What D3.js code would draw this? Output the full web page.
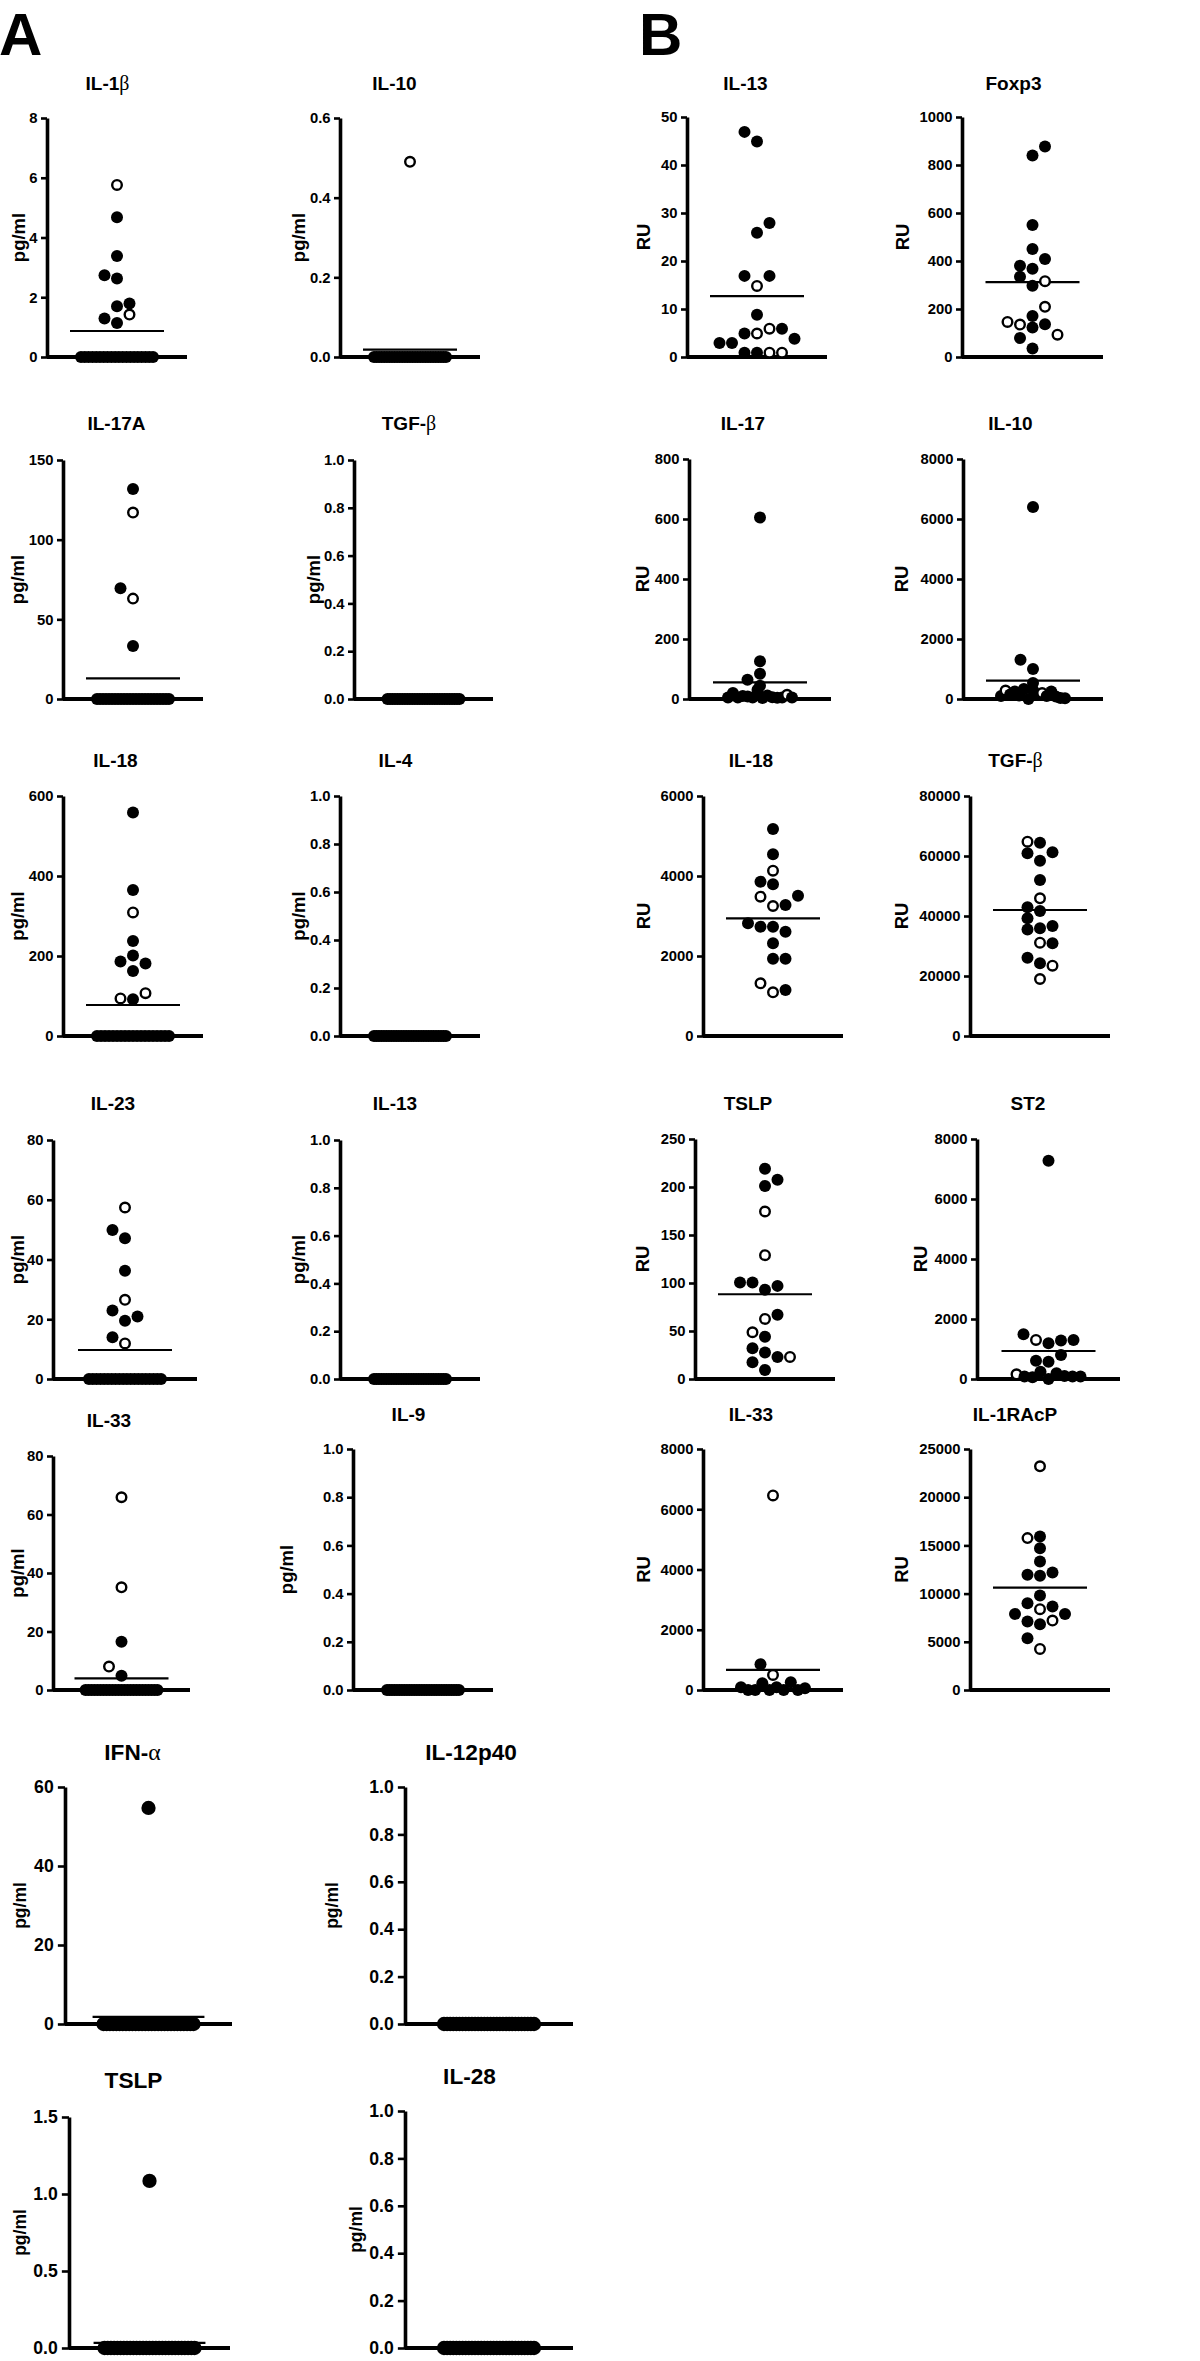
<!DOCTYPE html>
<html>
<head>
<meta charset="utf-8">
<script src="https://cdn.jsdelivr.net/npm/d3@7"></script>
<style>
  html, body { margin: 0; padding: 0; background: #ffffff; }
  svg text { font-family: Arial, "Liberation Sans", Helvetica, sans-serif; font-weight: bold; fill: #000; }
</style>
</head>
<body>
<svg id="chart" width="1200" height="2361"></svg>
<script>
// ---------------- DATA (value, open marker: 1 = open circle) ----------------
const A_IL1b = [[1.14,0],[1.29,0],[1.42,1],[1.70,0],[1.79,0],[2.63,0],[2.74,0],[3.38,0],[4.68,0],[5.76,1],
  [0,0],[0,0],[0,0],[0,0],[0,0],[0,0],[0,0],[0,0],[0,0],[0,0],[0,0],[0,0],[0,0],[0,0],[0,0],[0,0],[0,0],[0,0],[0,0],[0,0]];
const A_IL10 = [[0.49,1],
  [0,0],[0,0],[0,0],[0,0],[0,0],[0,0],[0,0],[0,0],[0,0],[0,0],[0,0],[0,0],[0,0],[0,0],[0,0],[0,0],[0,0],[0,0],[0,0],[0,0],[0,0],[0,0],[0,0],[0,0],[0,0],[0,0],[0,0],[0,0],[0,0]];
const A_IL17A = [[33.3,0],[63,1],[69.5,0],[117,1],[131.8,0],
  [0,0],[0,0],[0,0],[0,0],[0,0],[0,0],[0,0],[0,0],[0,0],[0,0],[0,0],[0,0],[0,0],[0,0],[0,0],[0,0],[0,0],[0,0],[0,0],[0,0],[0,0],[0,0],[0,0],[0,0],[0,0]];
const A_TGFb = [[0,0],[0,0],[0,0],[0,0],[0,0],[0,0],[0,0],[0,0],[0,0],[0,0],[0,0],[0,0],[0,0],[0,0],[0,0],
  [0,0],[0,0],[0,0],[0,0],[0,0],[0,0],[0,0],[0,0],[0,0],[0,0],[0,0],[0,0],[0,0],[0,0],[0,0]];
const A_IL18 = [[92,0],[94,1],[107,1],[162.5,0],[181,0],[186,0],[201,0],[237.5,0],[309,1],[365,0],[559,0],
  [0,0],[0,0],[0,0],[0,0],[0,0],[0,0],[0,0],[0,0],[0,0],[0,0],[0,0],[0,0],[0,0],[0,0],[0,0],[0,0],[0,0],[0,0],[0,0]];
const A_IL4 = [[0,0],[0,0],[0,0],[0,0],[0,0],[0,0],[0,0],[0,0],[0,0],[0,0],[0,0],[0,0],[0,0],[0,0],[0,0],
  [0,0],[0,0],[0,0],[0,0],[0,0],[0,0],[0,0],[0,0],[0,0],[0,0],[0,0],[0,0],[0,0],[0,0],[0,0]];
const A_IL23 = [[11.9,1],[14,0],[19.5,0],[20.9,0],[22.9,0],[26.5,1],[36.2,0],[47.1,0],[49.9,0],[57.4,1],
  [0,0],[0,0],[0,0],[0,0],[0,0],[0,0],[0,0],[0,0],[0,0],[0,0],[0,0],[0,0],[0,0],[0,0],[0,0],[0,0],[0,0],[0,0],[0,0],[0,0]];
const A_IL13 = [[0,0],[0,0],[0,0],[0,0],[0,0],[0,0],[0,0],[0,0],[0,0],[0,0],[0,0],[0,0],[0,0],[0,0],[0,0],
  [0,0],[0,0],[0,0],[0,0],[0,0],[0,0],[0,0],[0,0],[0,0],[0,0],[0,0],[0,0],[0,0],[0,0],[0,0]];
const A_IL33 = [[4.9,0],[8.0,1],[16.5,0],[35.1,1],[65.9,1],
  [0,0],[0,0],[0,0],[0,0],[0,0],[0,0],[0,0],[0,0],[0,0],[0,0],[0,0],[0,0],[0,0],[0,0],[0,0],[0,0],[0,0],[0,0],[0,0],[0,0],[0,0],[0,0],[0,0],[0,0],[0,0]];
const A_IL9 = [[0,0],[0,0],[0,0],[0,0],[0,0],[0,0],[0,0],[0,0],[0,0],[0,0],[0,0],[0,0],[0,0],[0,0],[0,0],
  [0,0],[0,0],[0,0],[0,0],[0,0],[0,0],[0,0],[0,0],[0,0],[0,0],[0,0],[0,0],[0,0],[0,0],[0,0]];
const A_IFNa = [[54.7,0],
  [0,0],[0,0],[0,0],[0,0],[0,0],[0,0],[0,0],[0,0],[0,0],[0,0],[0,0],[0,0],[0,0],[0,0],[0,0],[0,0],[0,0],[0,0],[0,0],[0,0],[0,0],[0,0],[0,0],[0,0],[0,0],[0,0],[0,0],[0,0],[0,0]];
const A_IL12p40 = [[0,0],[0,0],[0,0],[0,0],[0,0],[0,0],[0,0],[0,0],[0,0],[0,0],[0,0],[0,0],[0,0],[0,0],[0,0],
  [0,0],[0,0],[0,0],[0,0],[0,0],[0,0],[0,0],[0,0],[0,0],[0,0],[0,0],[0,0],[0,0],[0,0],[0,0]];
const A_TSLP = [[1.085,0],
  [0,0],[0,0],[0,0],[0,0],[0,0],[0,0],[0,0],[0,0],[0,0],[0,0],[0,0],[0,0],[0,0],[0,0],[0,0],[0,0],[0,0],[0,0],[0,0],[0,0],[0,0],[0,0],[0,0],[0,0],[0,0],[0,0],[0,0],[0,0],[0,0]];
const A_IL28 = [[0,0],[0,0],[0,0],[0,0],[0,0],[0,0],[0,0],[0,0],[0,0],[0,0],[0,0],[0,0],[0,0],[0,0],[0,0],
  [0,0],[0,0],[0,0],[0,0],[0,0],[0,0],[0,0],[0,0],[0,0],[0,0],[0,0],[0,0],[0,0],[0,0],[0,0]];

const B_IL13 = [[0.9,0],[0.9,0],[0.9,1],[2.9,0],[0.9,1],[2.9,0],[4.9,1],[5.9,1],[4.9,0],[5.9,0],[3.8,0],
  [8.8,0],[14.8,1],[16.9,0],[16.9,0],[25.9,0],[27.9,0],[44.9,0],[46.9,0]];
const B_Foxp3 = [[35,0],[79,0],[123,0],[136,0],[135,1],[93,1],[146,1],[171,0],[209,1],[297,0],[316,1],
  [334,0],[368,0],[380,0],[408,0],[450,0],[550,0],[840,0],[877,0]];
const B_IL17 = [[5,0],[20,0],[5,0],[10,0],[8,0],[5,0],[31,0],[3,0],[12,0],[6,0],[4,0],[5,0],[14,1],[5,0],
  [44,0],[64,0],[84,0],[126,0],[605,0]];
const B_IL10 = [[100,0],[280,1],[150,0],[250,0],[120,0],[330,0],[0,0],[300,0],[150,0],[200,1],[100,0],
  [250,0],[80,0],[30,0],[25,0],[533,0],[1000,0],[1311,0],[6400,0]];
const B_IL18 = [[1092,1],[1317,1],[1150,0],[1933,0],[1933,0],[2317,0],[2733,0],[2733,0],[2608,0],[2817,0],
  [3250,1],[3275,0],[3483,1],[3508,0],[3792,0],[3858,0],[4133,1],[4542,0],[5175,0]];
const B_TGFb = [[19000,1],[24222,0],[26111,0],[23444,1],[31111,1],[30889,0],[35889,0],[35500,0],[36667,0],
  [41667,0],[42889,0],[39222,0],[45889,1],[52000,0],[58444,0],[61222,0],[60889,0],[64444,0],[64778,1]];
const B_TSLP = [[9.4,0],[17.4,0],[27.5,0],[23,0],[23,1],[32,0],[44,0],[48.7,1],[62.6,1],[67,0],[93,0],
  [100.5,0],[97,0],[100.5,0],[129,1],[174.5,1],[201,0],[207.6,0],[219,0]];
const B_ST2 = [[156,1],[80,0],[60,0],[245,0],[0,0],[190,0],[100,0],[80,0],[80,0],
  [578,0],[612,0],[800,0],[1190,0],[1280,0],[1301,1],[1301,0],[1490,0],[7275,0]];
const B_IL33 = [[89,0],[0,0],[0,0],[222,0],[0,0],[90,0],[0,0],[255,0],[0,0],[55,0],[499,1],[853,0],[6460,1]];
const B_IL1RAcP = [[4259,1],[5367,0],[6821,0],[7202,1],[7098,0],[7895,0],[7895,0],[8380,1],[9003,0],[8657,0],
  [9799,0],[11842,0],[12188,0],[11946,0],[13331,0],[14716,0],[15755,1],[15928,0],[23200,1]];

// panel order: row by row (A col1, A col2, B col1, B col2)
const titles = ["IL-1β","IL-10","IL-13","Foxp3",
                "IL-17A","TGF-β","IL-17","IL-10",
                "IL-18","IL-4","IL-18","TGF-β",
                "IL-23","IL-13","TSLP","ST2",
                "IL-33","IL-9","IL-33","IL-1RAcP",
                "IFN-α","IL-12p40",
                "TSLP","IL-28"];
const series = [A_IL1b, A_IL10, B_IL13, B_Foxp3,
                A_IL17A, A_TGFb, B_IL17, B_IL10,
                A_IL18, A_IL4, B_IL18, B_TGFb,
                A_IL23, A_IL13, B_TSLP, B_ST2,
                A_IL33, A_IL9, B_IL33, B_IL1RAcP,
                A_IFNa, A_IL12p40,
                A_TSLP, A_IL28];
const means = [0.87, 0.0185, 12.7, 312,
               13.0, 0, 55.6, 611,
               77.5, 0, 2942, 42000,
               9.7, 0, 88.3, 934,
               4.0, 0, 665, 10630,
               1.8, 0,
               0.033, 0];
const T01 = [0, 0.2, 0.4, 0.6, 0.8, 1.0];
const ticks = [[0,2,4,6,8], [0,0.2,0.4,0.6], [0,10,20,30,40,50], [0,200,400,600,800,1000],
               [0,50,100,150], T01, [0,200,400,600,800], [0,2000,4000,6000,8000],
               [0,200,400,600], T01, [0,2000,4000,6000], [0,20000,40000,60000,80000],
               [0,20,40,60,80], T01, [0,50,100,150,200,250], [0,2000,4000,6000,8000],
               [0,20,40,60,80], T01, [0,2000,4000,6000,8000], [0,5000,10000,15000,20000,25000],
               [0,20,40,60], T01,
               [0,0.5,1.0,1.5], T01];
const groups = ["A","A","B","B", "A","A","B","B", "A","A","B","B", "A","A","B","B", "A","A","B","B", "A","A", "A","A"];
const unitLabel = { A: "pg/ml", B: "RU" };

// ---------------- LAYOUT (pixel geometry of each panel) ----------------
const layoutSpec = [
  {ax:47,  xe:187,  yt:118,  yb:357,  tx:107.5, ty:90,   lx:18.5},
  {ax:340, xe:480,  yt:118,  yb:357,  tx:394.5, ty:90,   lx:298},
  {ax:687, xe:827,  yt:117,  yb:357,  tx:745.5, ty:90,   lx:643},
  {ax:962, xe:1103, yt:117,  yb:357,  tx:1013.5,ty:90,   lx:902},

  {ax:63,  xe:203,  yt:460,  yb:699,  tx:116.5, ty:430,  lx:17},
  {ax:354, xe:493,  yt:460,  yb:699,  tx:409,   ty:430,  lx:313},
  {ax:689, xe:831,  yt:459,  yb:699,  tx:743,   ty:430,  lx:642},
  {ax:963, xe:1103, yt:459,  yb:699,  tx:1010.5,ty:430,  lx:901},

  {ax:63,  xe:203,  yt:796,  yb:1036, tx:115.5, ty:767,  lx:17},
  {ax:340, xe:480,  yt:796,  yb:1036, tx:395.5, ty:767,  lx:298},
  {ax:703, xe:843,  yt:796,  yb:1036, tx:751,   ty:767,  lx:643},
  {ax:970, xe:1110, yt:796,  yb:1036, tx:1015.5,ty:767,  lx:901},

  {ax:53,  xe:197,  yt:1140, yb:1379, tx:113,   ty:1110, lx:17},
  {ax:340, xe:480,  yt:1140, yb:1379, tx:395,   ty:1110, lx:298},
  {ax:695, xe:835,  yt:1139, yb:1379, tx:748,   ty:1110, lx:642},
  {ax:977, xe:1120, yt:1139, yb:1379, tx:1028,  ty:1110, lx:920},

  {ax:53,  xe:190,  yt:1456, yb:1690, tx:109,   ty:1427, lx:17},
  {ax:353, xe:493,  yt:1449, yb:1690, tx:408.5, ty:1421, lx:286},
  {ax:703, xe:843,  yt:1449, yb:1690, tx:751,   ty:1421, lx:643},
  {ax:970, xe:1110, yt:1449, yb:1690, tx:1015,  ty:1421, lx:901},

  {ax:65,  xe:232,  yt:1787, yb:2024, tx:132.5, ty:1760, lx:20,  k:1.19},
  {ax:405, xe:573,  yt:1787, yb:2024, tx:471,   ty:1760, lx:332, k:1.19},

  {ax:69,  xe:230,  yt:2117, yb:2348, tx:133.5, ty:2088, lx:20,  k:1.19},
  {ax:405, xe:573,  yt:2111, yb:2348, tx:469.5, ty:2084, lx:356, k:1.19}
];

const svg = d3.select("#chart");

// panel letters
svg.append("text").attr("x", -1).attr("y", 55).attr("font-size", 60).text("A");
svg.append("text").attr("x", 639).attr("y", 55).attr("font-size", 60).text("B");

// GraphPad-like horizontal spreading of points (column index per point)
function spreadColumns(vals, y, D, denseHalf) {
  const n = vals.length;
  const order = d3.range(n).sort((a, b) => (vals[a] - vals[b]) || (a - b));
  const bins = [];
  let cur = null;
  order.forEach(i => {
    const py = y(vals[i]);
    if (cur && cur.py0 - py < D) cur.items.push(i);
    else { cur = { py0: py, items: [i] }; bins.push(cur); }
  });
  const cols = new Array(n).fill(0);
  const placed = [];
  let side = -1;
  bins.forEach(b => {
    const items = b.items.slice().sort((a, c) => a - c);
    const m = items.length;
    if (m > 7) {
      items.forEach((i, j) => { cols[i] = -denseHalf + j * 2 * denseHalf / (m - 1); });
      return;
    }
    const seq = [0];
    for (let q = 1; q <= 6; q++) seq.push(side * q, -side * q);
    items.forEach(i => {
      const py = y(vals[i]);
      let c = seq.find(cc => !placed.some(pp => pp.c === cc && Math.abs(pp.py - py) < D));
      if (c === undefined) c = 0;
      cols[i] = c;
      placed.push({ c, py });
    });
    if (m > 1) side = -side;
  });
  return cols;
}

function addTitle(g, txt, x, y, size) {
  const t = g.append("text").attr("x", x).attr("y", y).attr("text-anchor", "middle").attr("font-size", size);
  const m = txt.match(/^(.*?)([αβ])$/);
  if (m) {
    t.append("tspan").text(m[1]);
    t.append("tspan").attr("font-family", "'Liberation Serif','DejaVu Serif',serif")
      .attr("font-weight", "normal").attr("font-size", size * 1.05).text(m[2]);
  } else {
    t.text(txt);
  }
}

layoutSpec.forEach((p, idx) => {
  const k = p.k || 1;
  const grp = groups[idx];
  const data = series[idx];
  const tv = ticks[idx];
  const g = svg.append("g");

  const y = d3.scaleLinear().domain([0, d3.max(tv)]).range([p.yb, p.yt]);
  const cx = (p.ax + p.xe) / 2;
  const sp = 12.5 * k;
  const col = d3.scaleLinear().domain([0, 1]).range([cx, cx + sp]);
  const r = 6 * k;
  const D = 11 * k;
  const denseHalfPx = (grp === "A" ? 36 : 32) * (k > 1 ? 1.25 : 1);
  const vals = data.map(d => d[0]);
  const cols = spreadColumns(vals, y, D, denseHalfPx / sp);

  addTitle(g, titles[idx], p.tx, p.ty, 19 * k);

  g.append("text")
    .attr("transform", `translate(${p.lx},${(p.yt + p.yb) / 2}) rotate(-90)`)
    .attr("text-anchor", "middle")
    .attr("dominant-baseline", "central")
    .attr("font-size", k > 1 ? 17.5 : 18.5)
    .text(unitLabel[grp]);

  const dec = tv.some(v => Math.round(v) !== v);
  const fmt = dec ? d3.format(".1f") : d3.format("d");
  const axis = d3.axisLeft(y).tickValues(tv).tickFormat(fmt)
    .tickSize(6 * k).tickPadding(3.5 * k).tickSizeOuter(0);
  const ga = g.append("g").attr("transform", `translate(${p.ax},0)`).call(axis);
  ga.attr("font-family", null).attr("font-size", null);
  ga.select(".domain").attr("stroke", "#000").attr("stroke-width", 3.6);
  ga.selectAll(".tick line").attr("stroke", "#000").attr("stroke-width", 2.6);
  ga.selectAll(".tick text").attr("fill", "#000").attr("font-size", 14.8 * k)
    .attr("font-family", "Arial, 'Liberation Sans', sans-serif").attr("font-weight", "bold");

  g.append("line").attr("x1", p.ax).attr("x2", p.xe).attr("y1", y(0)).attr("y2", y(0))
    .attr("stroke", "#000").attr("stroke-width", 4);

  const mh = 47 * k / sp;
  g.append("line").attr("x1", col(-mh)).attr("x2", col(mh))
    .attr("y1", y(means[idx])).attr("y2", y(means[idx]))
    .attr("stroke", "#000").attr("stroke-width", 2.2);

  g.selectAll("circle.pt").data(data).join("circle")
    .attr("class", "pt")
    .attr("cx", (d, i) => col(cols[i]))
    .attr("cy", d => y(d[0]))
    .attr("r", d => d[1] ? r - 1.2 : r)
    .attr("fill", d => d[1] ? "#fff" : "#000")
    .attr("stroke", d => d[1] ? "#000" : "none")
    .attr("stroke-width", d => d[1] ? 2.4 * k : 0);
});
</script>
</body>
</html>
